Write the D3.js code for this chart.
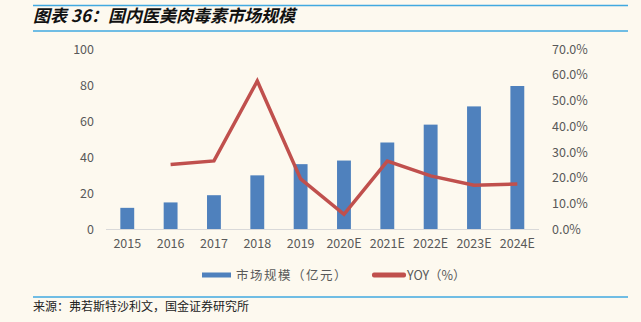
<!DOCTYPE html>
<html><head><meta charset="utf-8">
<script src="https://cdn.jsdelivr.net/npm/d3@7"></script>
<style>
html,body{margin:0;padding:0;background:#fdf9ef;}
svg{display:block;}
</style></head>
<body>
<svg id="chart" width="641" height="322"></svg>
<script>
const categories = ["2015","2016","2017","2018","2019","2020E","2021E","2022E","2023E","2024E"];
const marketSize = [12, 15, 19, 30, 36.2, 38.2, 48.2, 58.1, 68.2, 79.5];
const yoy = [null, 25.2, 26.6, 57.6, 19.6, 5.9, 26.5, 20.8, 17.2, 17.6];
const leftTicks = [0, 20, 40, 60, 80, 100];
const rightTicks = [0, 10, 20, 30, 40, 50, 60, 70];
const title = "图表 36：国内医美肉毒素市场规模";
const legendLabels = ["市场规模（亿元）", "YOY（%）"];
const source = "来源：弗若斯特沙利文，国金证券研究所";

const svg = d3.select("#chart");
const font = "'Noto Sans CJK SC', 'Noto Sans', sans-serif";
const blue = "#4f81bd", red = "#c0504d", axisText = "#595959";

svg.append("rect").attr("width",641).attr("height",322).attr("fill","#fdf9ef");

// header lines
svg.append("line").attr("x1",33).attr("x2",628).attr("y1",5.5).attr("y2",5.5).attr("stroke","#41a9e0").attr("stroke-width",1.5);
svg.append("line").attr("x1",33).attr("x2",628).attr("y1",31).attr("y2",31).attr("stroke","#41a9e0").attr("stroke-width",1.5);
svg.append("text").attr("x",33).attr("y",21.5).text(title)
  .attr("font-family",font).attr("font-size",17).attr("font-weight","bold").attr("font-style","italic").attr("fill","#111");

const x = d3.scaleBand().domain(categories).range([105.6, 539]).paddingInner(0.68).paddingOuter(0.34);
const yL = d3.scaleLinear().domain([0,100]).range([229.5, 49]);
const yR = d3.scaleLinear().domain([0,70]).range([229.5, 49]);

// bars
svg.append("g").selectAll("rect").data(categories).join("rect")
  .attr("x", d => x(d))
  .attr("width", x.bandwidth())
  .attr("y", (d,i) => yL(marketSize[i]))
  .attr("height", (d,i) => yL(0) - yL(marketSize[i]))
  .attr("fill", blue);

// baseline
svg.append("line").attr("x1",106).attr("x2",539).attr("y1",yL(0)).attr("y2",yL(0)).attr("stroke","#d9d9d9").attr("stroke-width",1);

// left axis
const gL = svg.append("g").attr("transform","translate(99,0)")
  .call(d3.axisLeft(yL).tickValues(leftTicks).tickSize(0).tickPadding(5).tickFormat(d3.format("d")));
gL.select(".domain").remove();
gL.selectAll("text").attr("font-family",font).attr("font-size",12.5).attr("fill",axisText);

// right axis
const gR = svg.append("g").attr("transform","translate(547,0)")
  .call(d3.axisRight(yR).tickValues(rightTicks).tickSize(0).tickPadding(5).tickFormat(d => d.toFixed(1) + "%"));
gR.select(".domain").remove();
gR.selectAll("text").attr("font-family",font).attr("font-size",12.5).attr("fill",axisText);

// bottom axis
const gB = svg.append("g").attr("transform",`translate(0,${yL(0)})`)
  .call(d3.axisBottom(x).tickSize(0).tickPadding(10));
gB.select(".domain").remove();
gB.selectAll("text").attr("font-family",font).attr("font-size",12.5).attr("fill",axisText);

// yoy line
const line = d3.line()
  .defined(d => d[1] !== null)
  .x(d => x(d[0]) + x.bandwidth()/2)
  .y(d => yR(d[1]));
svg.append("path").datum(categories.map((c,i) => [c, yoy[i]]))
  .attr("d", line).attr("fill","none").attr("stroke",red).attr("stroke-width",3.5).attr("stroke-linejoin","miter");

// legend
const lg = svg.append("g");
lg.append("rect").attr("x",202).attr("y",272.5).attr("width",29).attr("height",5).attr("fill",blue);
lg.append("text").attr("x",236).attr("y",279.5).text(legendLabels[0]).attr("font-family",font).attr("font-size",12.5).attr("letter-spacing","1.5px").attr("fill",axisText);
lg.append("rect").attr("x",372).attr("y",272.5).attr("width",34).attr("height",5).attr("rx",2).attr("fill",red);
lg.append("text").attr("x",407).attr("y",279.5).text(legendLabels[1]).attr("font-family",font).attr("font-size",12.5).attr("fill",axisText);

// footer
svg.append("line").attr("x1",33).attr("x2",628).attr("y1",297).attr("y2",297).attr("stroke","#41a9e0").attr("stroke-width",1.5);
svg.append("text").attr("x",33).attr("y",311).text(source).attr("font-family",font).attr("font-size",12).attr("fill","#222");
</script>
</body></html>
